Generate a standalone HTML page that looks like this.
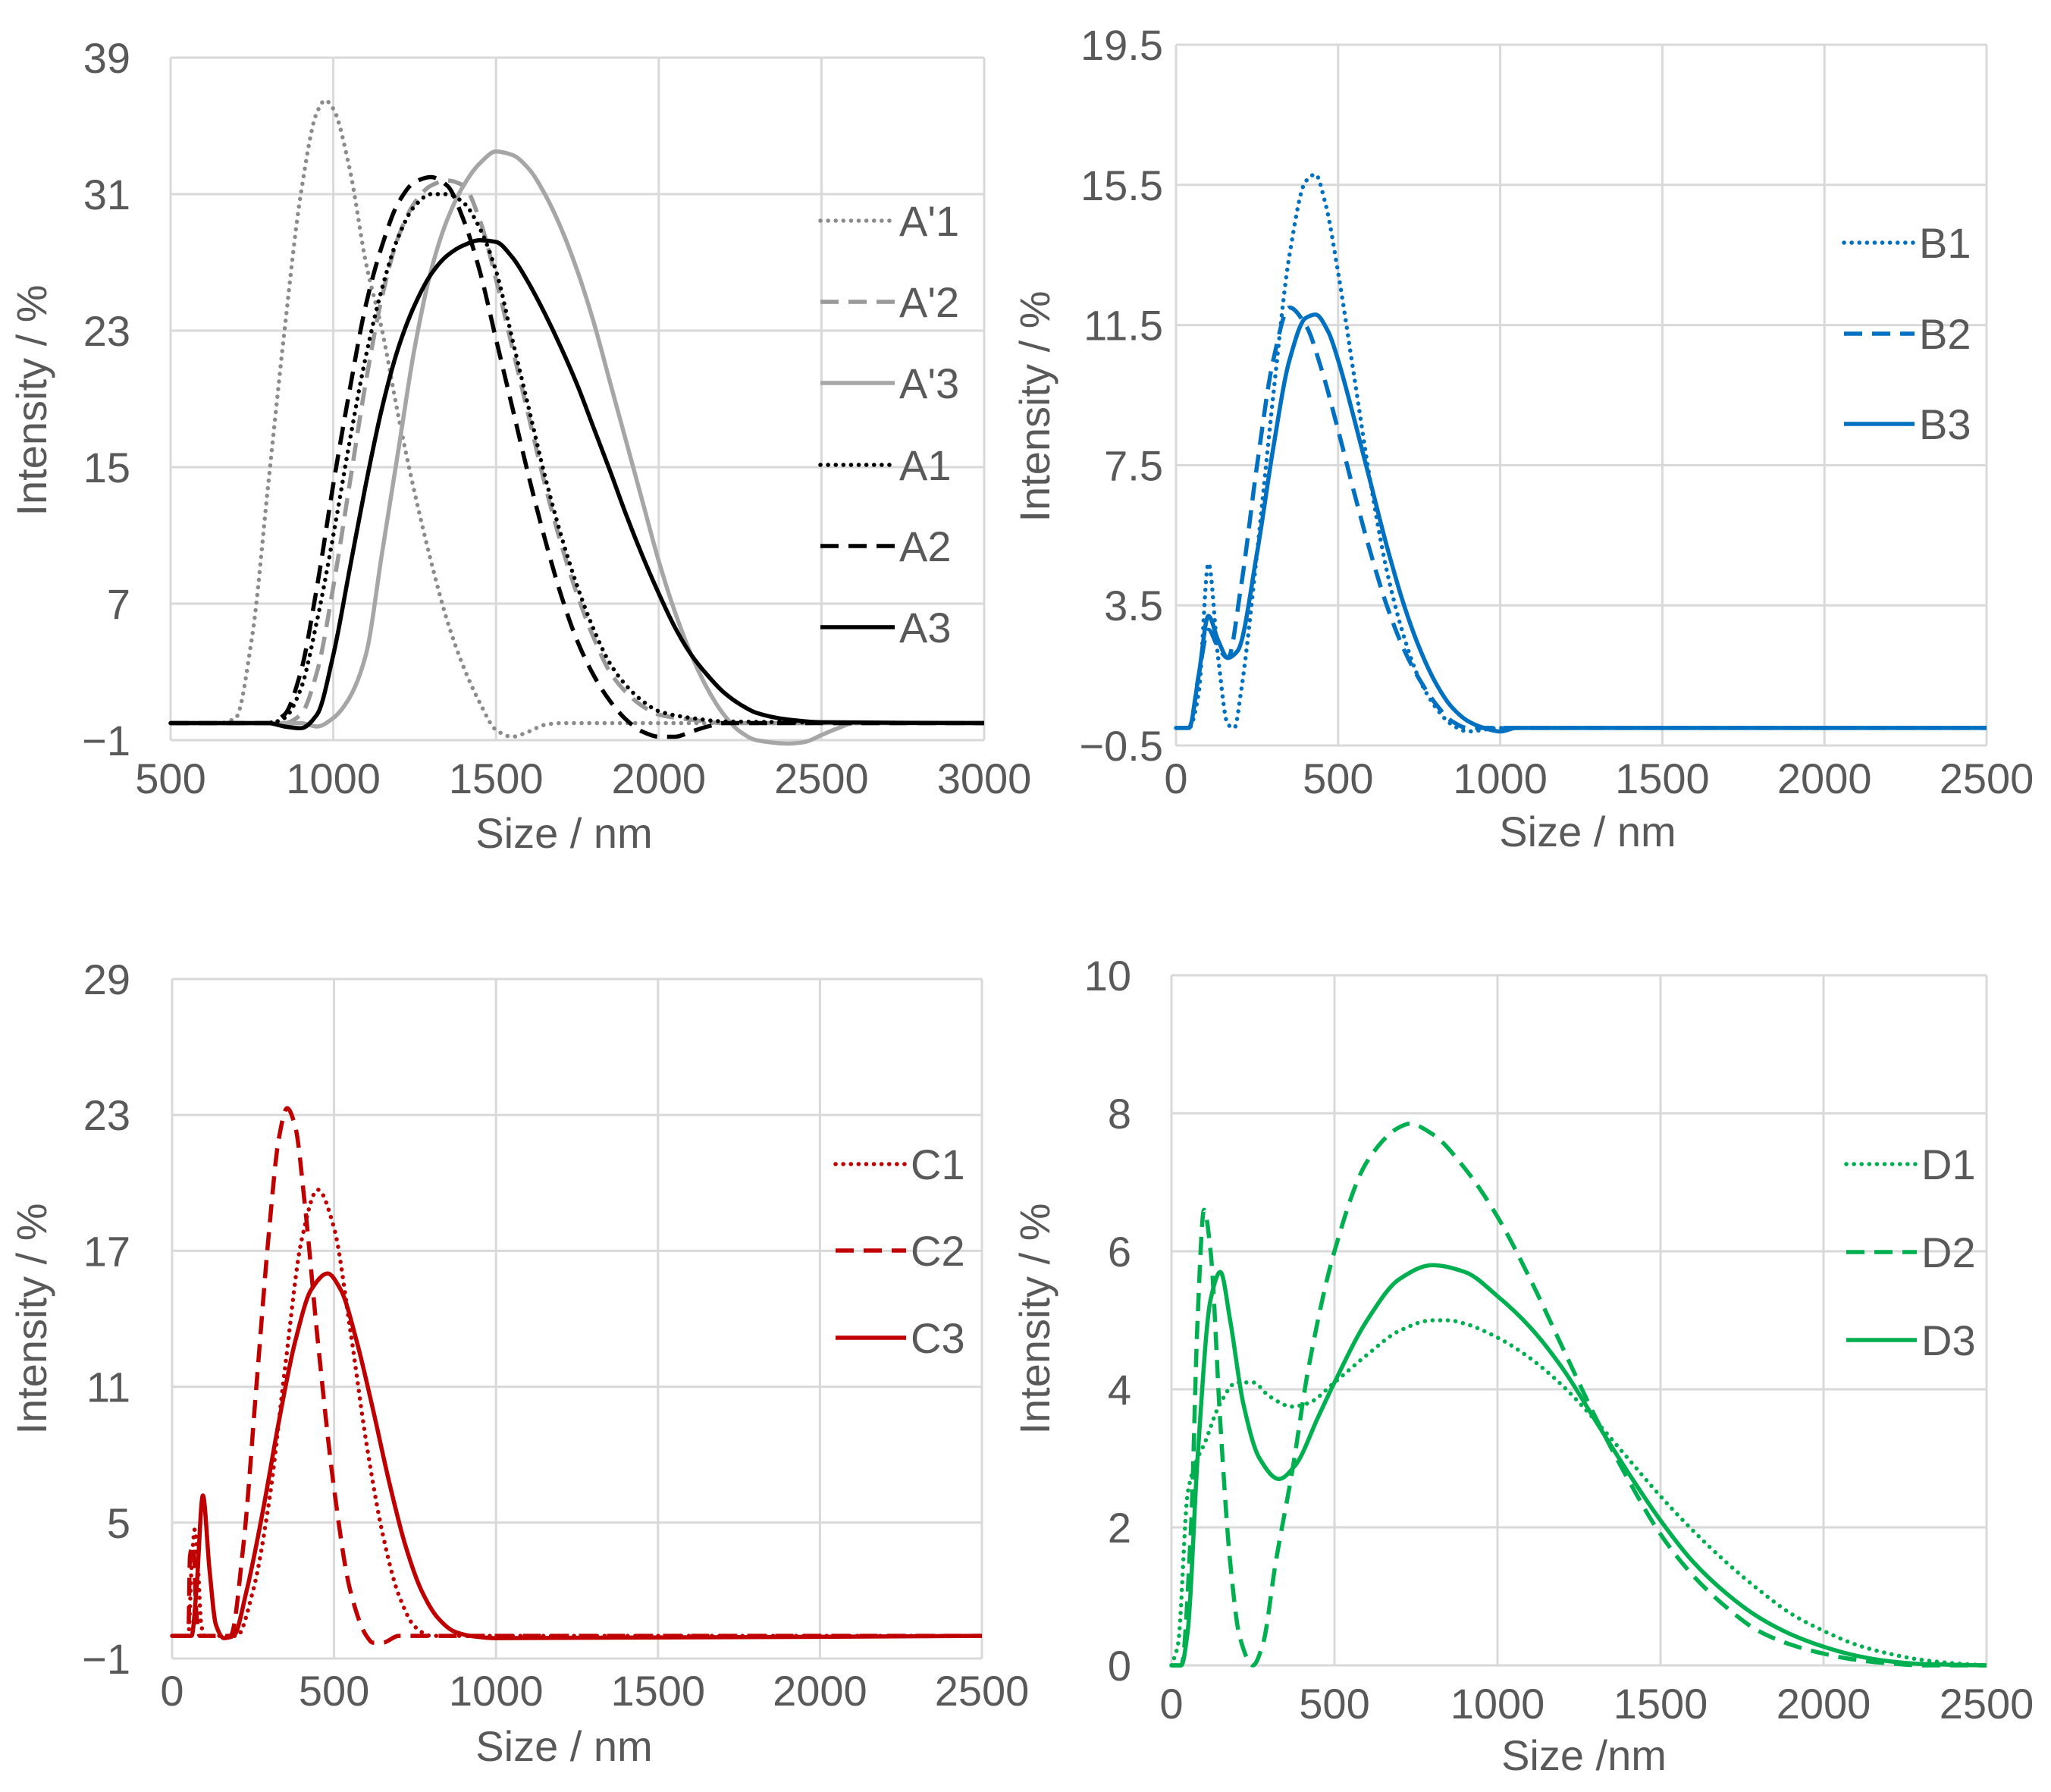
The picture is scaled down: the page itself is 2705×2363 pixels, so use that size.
<!DOCTYPE html>
<html><head><meta charset="utf-8"><style>
html,body{margin:0;padding:0;background:#fff}
svg{display:block}
text{font-family:"Liberation Sans",sans-serif;fill:#595959}
</style></head><body>
<svg id="chart" width="2705" height="2363" viewBox="0 0 2705 2363" xmlns="http://www.w3.org/2000/svg"></svg>
<script>
// ---- Panel A data ----
const aX1=[500,650,700,750,800,850,900,950,975,1000,1050,1100,1150,1200,1250,1300,1350,1400,1450,1500,1550,1600,1650,1700,2000,3000];
const aY1=[0,0,0.3,5,14,23,31,35.8,36.5,36,32.5,27,23,18,13.5,9.5,6,3.3,1.2,-0.4,-0.8,-0.5,-0.1,0,0,0];
const aX2=[500,850,900,950,1000,1050,1100,1150,1200,1250,1300,1350,1400,1450,1500,1550,1600,1650,1700,1750,1800,1850,1900,1950,2000,2100,2200,3000];
const aY2=[0,0,0.5,3,8,14,20,25,28.5,30.5,31.5,31.8,31.5,29.5,26,22,18,14,10.5,7.5,5,3,1.8,1,0.5,0.2,0,0];
const aX3=[500,900,950,1000,1050,1100,1150,1200,1250,1300,1350,1400,1450,1500,1550,1600,1650,1700,1750,1800,1850,1900,1950,2000,2050,2100,2150,2200,2250,2300,2400,2450,2500,2550,2600,3000];
const aY3=[0,0,-0.2,0.3,1.5,4,10,16,22,26.5,29.5,31.5,32.8,33.5,33.3,32.5,31,29,26.5,23.5,20,16.5,13,9.5,6.5,4,2,0.5,-0.5,-1,-1.2,-1.1,-0.7,-0.3,0,0];
const aX4=[500,800,850,900,950,1000,1050,1100,1150,1200,1250,1300,1350,1400,1450,1500,1550,1600,1650,1700,1750,1800,1850,1900,1950,2000,2100,2200,3000];
const aY4=[0,0,0.3,2,6,11,16.5,21.5,25.5,28.5,30.3,31,31,30.5,29,26.5,22.5,18.5,14.5,11,8,5.5,3.5,2.2,1.3,0.7,0.3,0.1,0];
const aX5=[500,800,850,900,950,1000,1050,1100,1150,1200,1250,1300,1350,1400,1450,1500,1550,1600,1650,1700,1750,1800,1850,1900,1950,2000,2050,2100,2150,2200,3000];
const aY5=[0,0,0.5,3,8,14,19.5,24.5,28,30.5,31.7,32,31.5,29.5,26.5,22.5,18.5,14.5,10.8,7.5,4.8,2.8,1.3,0.2,-0.5,-0.8,-0.8,-0.5,-0.2,0,0];
const aX6=[500,800,850,900,950,1000,1050,1100,1150,1200,1250,1300,1350,1400,1450,1500,1550,1600,1650,1700,1750,1800,1850,1900,1950,2000,2050,2100,2150,2200,2250,2300,2400,2500,3000];
const aY6=[0,0,-0.2,-0.3,0.5,4,9,14,18.5,22,24.5,26.3,27.4,28,28.3,28.2,27.3,25.8,24,22,19.8,17.3,14.8,12.2,9.8,7.6,5.6,4,2.8,1.8,1.1,0.6,0.2,0.05,0];
// ---- Panel B data ----
const bX1=[0,40,70,100,130,160,180,200,250,300,350,400,430,460,500,550,600,650,700,750,800,850,900,1000,2500];
const bY1=[0,0,1,4.7,2,0.1,0,1,5,9.5,13.5,15.6,15.8,15,13,10,7,4.5,2.7,1.4,0.6,0.1,-0.1,0,0];
const bX2=[0,40,70,100,130,160,200,250,300,350,400,450,500,550,600,650,700,750,800,850,900,1000,2500];
const bY2=[0,0,1.5,2.8,2.3,2,4,7.5,10.5,12,11.5,10.2,8.5,6.7,5,3.5,2.3,1.4,0.7,0.2,0,0,0];
const bX3=[0,40,70,100,130,160,190,250,300,350,400,430,470,500,550,600,650,700,750,800,850,900,950,1000,1050,2500];
const bY3=[0,0,1.5,3.2,2.5,2,2.2,5,8,10.5,11.7,11.8,11.3,10.5,8.8,7,5.2,3.6,2.3,1.3,0.6,0.2,0,-0.1,0,0];
// ---- Panel C data ----
const cX1=[0,50,60,70,80,90,100,200,250,300,350,400,450,500,550,600,650,700,750,800,2500];
const cY1=[0,0,3,4.7,3,0.5,0,0,2,6,12,17.5,19.7,18,13.5,8.5,4.5,1.8,0.4,0,0];
const cX2=[0,50,55,65,75,85,180,220,260,300,330,355,380,410,450,500,550,600,620,650,700,2500];
const cY2=[0,0,3.5,4,1,0,0,4,11,18,22,23.3,22.5,19,13,6.5,2,0,-0.3,-0.3,0,0];
const cX3=[0,60,75,95,115,135,160,190,230,280,330,380,430,480,520,570,620,670,720,770,820,870,920,1000,2500];
const cY3=[0,0,2,6.2,3,0.5,-0.1,0,2,5.5,9.5,13,15.3,16,15.3,13,10,6.8,4,2,0.8,0.2,0,-0.1,0];
// ---- Panel D data ----
const dX1=[0,20,50,80,100,150,200,250,300,370,420,500,600,700,800,850,900,1000,1100,1200,1300,1400,1500,1600,1700,1800,1900,2000,2100,2200,2300,2400,2500];
const dY1=[0,0.3,2.5,3,3.2,3.8,4.1,4.1,3.9,3.75,3.8,4.1,4.5,4.85,5,5,4.95,4.75,4.45,4.05,3.55,3,2.45,1.95,1.5,1.1,0.75,0.5,0.3,0.17,0.08,0.03,0];
const dX2=[0,30,60,80,100,120,150,180,210,250,280,320,370,420,500,600,700,730,800,900,1000,1100,1200,1300,1400,1500,1600,1700,1800,1900,2000,2100,2200,2300,2500];
const dY2=[0,0,2,5,6.6,6,3.5,1.5,0.4,0,0.3,1.5,2.8,4.3,6,7.3,7.8,7.85,7.7,7.2,6.5,5.6,4.6,3.6,2.7,1.9,1.3,0.85,0.5,0.3,0.17,0.08,0.03,0,0];
const dX3=[0,30,50,80,120,150,180,220,270,330,380,450,500,600,700,800,900,1000,1100,1200,1300,1400,1500,1600,1700,1800,1900,2000,2100,2200,2300,2500];
const dY3=[0,0,0.5,3,5.3,5.7,5,3.8,3,2.7,2.9,3.6,4.1,5,5.6,5.8,5.7,5.35,4.9,4.3,3.55,2.8,2.1,1.5,1.05,0.7,0.45,0.27,0.14,0.06,0.02,0];

const aXTicks=[500,1000,1500,2000,2500,3000];
const aYTicks=[-1,7,15,23,31,39];
const bXTicks=[0,500,1000,1500,2000,2500];
const bYTicks=[-0.5,3.5,7.5,11.5,15.5,19.5];
const cXTicks=[0,500,1000,1500,2000,2500];
const cYTicks=[-1,5,11,17,23,29];
const dXTicks=[0,500,1000,1500,2000,2500];
const dYTicks=[0,2,4,6,8,10];

const NS='http://www.w3.org/2000/svg';
const svg=document.getElementById('chart');
function mk(tag,attrs,parent){const e=document.createElementNS(NS,tag);for(const k in attrs)e.setAttribute(k,attrs[k]);(parent||svg).appendChild(e);return e;}
const DOT='0.1 10', DASH='24 13';
const FS=56;

function monotonePath(pts){
  const n=pts.length;
  const dx=[],dy=[],m=[];
  for(let k=0;k<n-1;k++){dx.push(pts[k+1][0]-pts[k][0]);dy.push(pts[k+1][1]-pts[k][1]);m.push(dy[k]/dx[k]);}
  const t=new Array(n);
  t[0]=m[0];t[n-1]=m[n-2];
  for(let k=1;k<n-1;k++){
    if(m[k-1]*m[k]<=0)t[k]=0;
    else t[k]=3*(dx[k-1]+dx[k])/((2*dx[k]+dx[k-1])/m[k-1]+(dx[k]+2*dx[k-1])/m[k]);
  }
  let d='M'+pts[0][0].toFixed(1)+','+pts[0][1].toFixed(1);
  for(let k=0;k<n-1;k++){
    const h=dx[k]/3;
    d+=` C${(pts[k][0]+h).toFixed(1)},${(pts[k][1]+t[k]*h).toFixed(1)} ${(pts[k+1][0]-h).toFixed(1)},${(pts[k+1][1]-t[k+1]*h).toFixed(1)} ${pts[k+1][0].toFixed(1)},${pts[k+1][1].toFixed(1)}`;
  }
  return d;
}

function panel(id,P,xt,yt,xFmt,yFmt,xTitle,series){
  const g=mk('g',{});
  
  
  const xmin=xt[0],xmax=xt[xt.length-1],ymin=yt[0],ymax=yt[yt.length-1];
  const sx=v=>P.x0+(v-xmin)/(xmax-xmin)*(P.x1-P.x0);
  const sy=v=>P.yb-(v-ymin)/(ymax-ymin)*(P.yb-P.yt);
  xt.forEach(t=>{
    const l=mk('line',{x1:sx(t),x2:sx(t),y1:P.yt,y2:P.yb,stroke:'#d9d9d9','stroke-width':3},g);
    
    
    const tx=mk('text',{x:sx(t),y:P.xly,'font-size':FS,'text-anchor':'middle'},g);
    tx.textContent=xFmt(t);
    
    
  });
  yt.forEach(t=>{
    const l=mk('line',{x1:P.x0,x2:P.x1,y1:sy(t),y2:sy(t),stroke:'#d9d9d9','stroke-width':3},g);
    
    
    const tx=mk('text',{x:P.ylx,y:sy(t)+20,'font-size':FS,'text-anchor':'end'},g);
    tx.textContent=yFmt(t);
    
    
  });
  const yl=mk('text',{x:P.ytx,y:P.yty,'font-size':FS,'text-anchor':'middle',transform:`rotate(-90 ${P.ytx} ${P.yty})`},g);
  yl.textContent='Intensity  / %';
  
  
  const xl=mk('text',{x:P.xtx,y:P.xty,'font-size':FS,'text-anchor':'middle'},g);
  xl.textContent=xTitle;
  
  
  series.forEach((s,i)=>{
    const pts=s.x.map((v,k)=>[sx(v),sy(s.y[k])]);
    const at={d:monotonePath(pts),fill:'none',stroke:s.c,'stroke-width':5.5,'stroke-linecap':s.dash===DOT?'round':'butt','stroke-linejoin':'round'};
    if(s.dash)at['stroke-dasharray']=s.dash;
    const p=mk('path',at,g);
    
    
    const ly=P.leg[i];
    const la={x1:P.lx0,x2:P.lx1,y1:ly,y2:ly,stroke:s.c,'stroke-width':5.5,'stroke-linecap':s.dash===DOT?'round':'butt'};
    if(s.dash)la['stroke-dasharray']=s.dash;
    const ll=mk('line',la,g);
    
    
    const lt=mk('text',{x:P.lx1+6,y:ly+20,'font-size':FS},g);
    lt.textContent=s.n;
    
    
  });
}
const f0=v=>String(v).replace('-','\u2212');
const f1=v=>String(v).replace('-','\u2212');

panel('panel-a',{x0:225,x1:1298,yt:76,yb:976,xly:1046,ylx:172,ytx:61,yty:528,xtx:744,xty:1118,lx0:1082,lx1:1180,leg:[291,398,505,613,720,827]},
 aXTicks,aYTicks,f0,f0,'Size / nm',[
 {n:"A'1",x:aX1,y:aY1,c:'#8c8c8c',dash:DOT},
 {n:"A'2",x:aX2,y:aY2,c:'#999999',dash:DASH},
 {n:"A'3",x:aX3,y:aY3,c:'#a6a6a6'},
 {n:'A1',x:aX4,y:aY4,c:'#000',dash:DOT},
 {n:'A2',x:aX5,y:aY5,c:'#000',dash:DASH},
 {n:'A3',x:aX6,y:aY6,c:'#000'}]);
panel('panel-b',{x0:1551,x1:2620,yt:59,yb:983,xly:1046,ylx:1534,ytx:1384,yty:536,xtx:2094,xty:1116,lx0:2432,lx1:2525,leg:[320,440,559]},
 bXTicks,bYTicks,f0,f1,'Size / nm',[
 {n:'B1',x:bX1,y:bY1,c:'#0070c0',dash:DOT},
 {n:'B2',x:bX2,y:bY2,c:'#0070c0',dash:DASH},
 {n:'B3',x:bX3,y:bY3,c:'#0070c0'}]);
panel('panel-c',{x0:227,x1:1295,yt:1291,yb:2187,xly:2249,ylx:172,ytx:61,yty:1739,xtx:744,xty:2322,lx0:1102,lx1:1195,leg:[1535,1649,1764]},
 cXTicks,cYTicks,f0,f0,'Size / nm',[
 {n:'C1',x:cX1,y:cY1,c:'#c00000',dash:DOT},
 {n:'C2',x:cX2,y:cY2,c:'#c00000',dash:DASH},
 {n:'C3',x:cX3,y:cY3,c:'#c00000'}]);
panel('panel-d',{x0:1545,x1:2620,yt:1286,yb:2196,xly:2266,ylx:1492,ytx:1384,yty:1739,xtx:2089,xty:2334,lx0:2435,lx1:2528,leg:[1535,1651,1767]},
 dXTicks,dYTicks,f0,f0,'Size /nm',[
 {n:'D1',x:dX1,y:dY1,c:'#00b050',dash:DOT},
 {n:'D2',x:dX2,y:dY2,c:'#00b050',dash:DASH},
 {n:'D3',x:dX3,y:dY3,c:'#00b050'}]);
</script>
</body></html>
